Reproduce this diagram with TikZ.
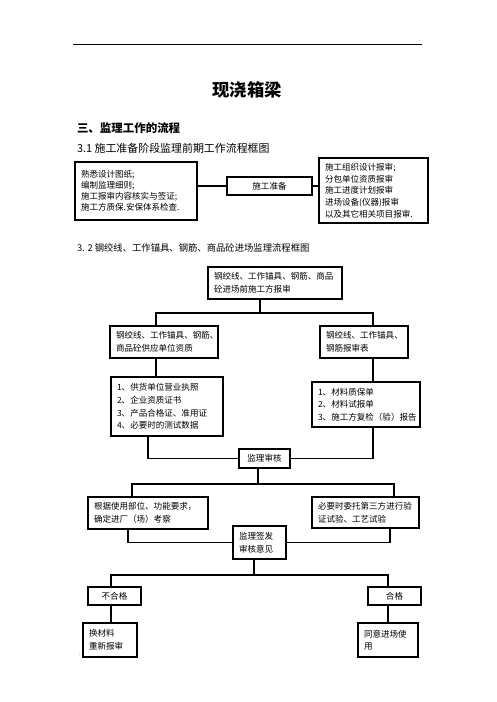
\documentclass[tikz,border=0pt]{standalone}
\usepackage{fontspec}
\newfontfamily\cjk{Noto Sans CJK SC}
\newcommand\boxfont{\cjk\fontsize{6.4}{9.4}\selectfont}
\begin{document}
\begin{tikzpicture}[x=0.75pt,y=-0.75pt,inner sep=0pt,outer sep=0pt,line width=0.9pt,
box/.style={draw,rectangle,inner xsep=4.5pt,align=left,font=\boxfont},
cbox/.style={draw,rectangle,align=center,font=\boxfont},
head/.style={anchor=west,font=\cjk\fontsize{8.2}{10}\selectfont}]

\useasboundingbox (0,0) rectangle (496,702);

\draw[line width=0.75pt] (73,45) coordinate (rulel) -- (422,45) coordinate (ruler);
\node[font=\fontsize{4}{4}\selectfont] (dot1) at (420,41) {.};
\node[font=\cjk\bfseries\fontsize{13}{15}\selectfont] (title) at (247,90) {现浇箱梁};
\node[head,font=\cjk\bfseries\fontsize{8.6}{10}\selectfont] (sec3) at (77,128) {三、监理工作的流程};
\node[head] (sec31) at (77,148) {3.1 施工准备阶段监理前期工作流程框图};
\node[head,font=\cjk\fontsize{7}{9}\selectfont] (sec32) at (77,248) {3. 2 钢绞线、工作锚具、钢筋、商品砼进场监理流程框图};

\draw (136,191) node[box,text width=82.5pt,minimum height=43.5pt,font=\cjk\fontsize{6.4}{8.3}\selectfont] (shuzhi) {熟悉设计图纸;\\编制监理细则;\\施工报审内容核实与签证;\\施工方质保.安保体系检查.};
\draw (269.5,186) node[cbox,minimum width=63.75pt,minimum height=13.5pt] (zhunbei) {施工准备};
\draw (373.5,190.5) node[box,text width=72.75pt,minimum height=48.75pt,font=\cjk\fontsize{6.4}{8.8}\selectfont] (shenbao) {施工组织设计报审;\\分包单位资质报审\\施工进度计划报审\\进场设备(仪器)报审\\以及其它相关项目报审.};

\draw (275,283) node[box,text width=91.5pt,minimum height=24pt] (baoshen) {钢绞线、工作锚具、钢筋、商品\\砼进场前施工方报审};
\draw (164,342) node[box,text width=72pt,minimum height=24pt] (gys) {钢绞线、工作锚具、钢筋、\\商品砼供应单位资质};
\draw (364,342) node[box,text width=57pt,minimum height=24pt] (bsb) {钢绞线、工作锚具、\\钢筋报审表};
\draw (167,406.5) node[box,text width=75pt,minimum height=44.25pt] (zizhi) {1、供货单位营业执照\\2、企业资质证书\\3、产品合格证、准用证\\4、必要时的测试数据};
\draw (366,404.5) node[box,text width=72pt,minimum height=33.75pt] (cailiao) {1、材料质保单\\2、材料试报单\\3、施工方复检（验）报告};
\draw (264.5,458.5) node[cbox,minimum width=38.25pt,minimum height=14.25pt] (shenhe) {监理审核};
\draw (148,513) node[box,text width=81pt,minimum height=24pt] (kaocha) {根据使用部位、功能要求，\\确定进厂（场）考察};
\draw (365.5,512.5) node[box,text width=71.25pt,minimum height=23.25pt] (weituo) {必要时委托第三方进行验\\证试验、工艺试验};
\draw (259.5,542.5) node[box,text width=30.75pt,minimum height=24.75pt] (qianfa) {监理签发\\审核意见};
\draw (114.5,596) node[cbox,minimum width=39.75pt,minimum height=13.5pt] (buhege) {不合格};
\draw (394.5,596) node[cbox,minimum width=39.75pt,minimum height=13.5pt] (hege) {合格};
\draw (110,640) node[box,text width=31.5pt,minimum height=25.5pt] (huan) {换材料\\重新报审};
\draw (388,640) node[box,text width=36pt,minimum height=25.5pt] (tongyi) {同意进场使\\用};
\node[font=\fontsize{4}{4}\selectfont,anchor=east] (dot2) at (83,655) {..};

\draw (zhunbei.west) -- (zhunbei.west -| shuzhi.east);
\draw (zhunbei.east) -- (zhunbei.east -| shenbao.west);

\coordinate (j1) at (260,313);
\coordinate (j1l) at (156,313);
\coordinate (j1r) at (373,313);
\draw (baoshen.south -| j1) -- (j1);
\draw (gys.north -| j1l) -- (j1l) -- (j1r) -- (bsb.north -| j1r);
\draw (gys.south -| j1l) -- (zizhi.north -| j1l);
\draw (bsb.south -| j1r) -- (cailiao.north -| j1r);
\coordinate (j2l) at (148,462);
\draw (zizhi.south -| j2l) |- (shenhe.west);
\draw (cailiao.south -| j1r) |- (shenhe.east);

\coordinate (j3) at (258,484);
\coordinate (j3l) at (132,484);
\coordinate (j3r) at (394,484);
\draw (shenhe.south -| j3) -- (j3);
\draw (kaocha.north -| j3l) -- (j3l) -- (j3r) -- (weituo.north -| j3r);
\coordinate (j4l) at (128,545);
\coordinate (j4r) at (390,545);
\draw (kaocha.south -| j4l) |- (qianfa.west);
\draw (weituo.south -| j4r) |- (qianfa.east);

\coordinate (j5) at (254,575);
\coordinate (j5l) at (111,575);
\coordinate (j5r) at (388,575);
\draw (qianfa.south -| j5) -- (j5);
\draw (buhege.north -| j5l) -- (j5l) -- (j5r) -- (hege.north -| j5r);
\draw (buhege.south -| j5l) -- (huan.north -| j5l);
\draw (hege.south -| j5r) -- (tongyi.north -| j5r);
\end{tikzpicture}
\end{document}
